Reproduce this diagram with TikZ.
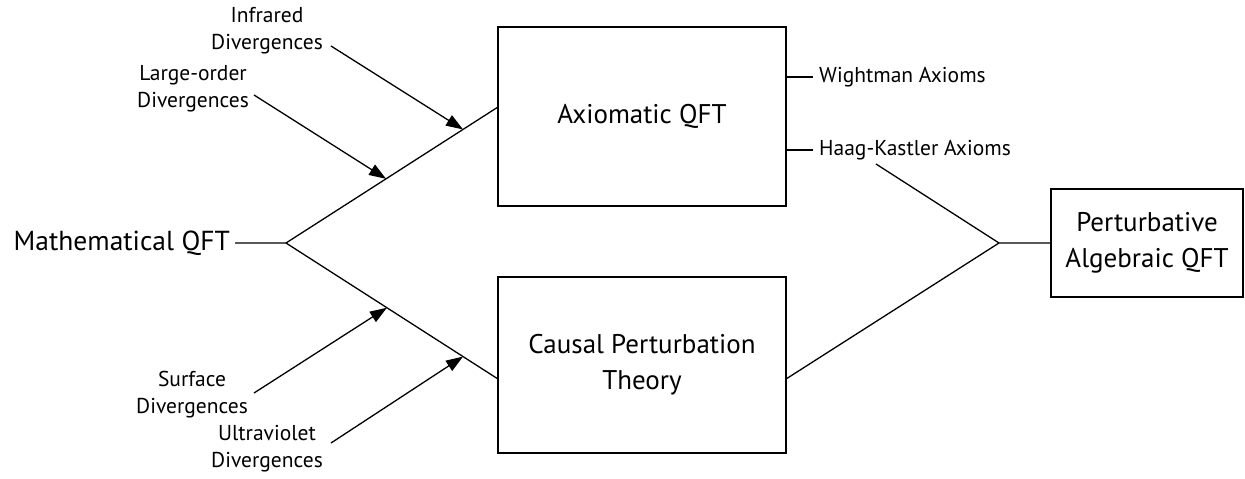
\documentclass[tikz,border=0pt]{standalone}
\usepackage{fontspec}
\setmainfont{PT Sans}
\usetikzlibrary{arrows.meta,calc}
\begin{document}
\begin{tikzpicture}[x=1pt,y=-1pt,
  box/.style={draw,line width=1.4pt,inner sep=0pt,align=center,font=\fontsize{27}{36}\selectfont},
  big/.style={font=\fontsize{27.5}{34}\selectfont,inner sep=5pt},
  small/.style={font=\fontsize{21.5}{27}\selectfont,align=center,inner sep=0pt},
  lbl/.style={font=\fontsize{21.5}{27}\selectfont,inner sep=6pt},
  ln/.style={line width=1.3pt},
  arr/.style={ln,-{Triangle[length=17pt,width=12pt]}}]
\useasboundingbox (0,0) rectangle (1245,479);

% boxes
\node[box,minimum width=288pt,minimum height=179pt] (ax) at (642,116.5) {Axiomatic QFT};
\node[box,minimum width=288pt,minimum height=176pt] (cp) at (642,365) {Causal Perturbation\\Theory};
\node[box,minimum width=192pt,minimum height=108pt] (pa) at (1147,243) {Perturbative\\Algebraic QFT};

% left
\node[big,anchor=east] (mq) at (235,243) {Mathematical QFT};
\coordinate (jl) at (286,243);
\coordinate (axin) at (498,107);
\coordinate (cpin) at (498,379);
\draw[ln] (mq.east) -- (jl) -- (axin);
\draw[ln] (jl) -- (cpin);

% divergence labels
\node[small] (ir) at (267,31) {Infrared\\Divergences};
\node[small] (lo) at (193,89) {Large-order\\Divergences};
\node[small] (sf) at (192,395) {Surface\\Divergences};
\node[small] (uv) at (267,449) {Ultraviolet\\Divergences};

\coordinate (irs) at (331,46);
\coordinate (los) at (254,95);
\coordinate (sfs) at (254,393);
\coordinate (uvs) at (331,443);
\coordinate (irt) at ($(jl)!0.835!(axin)$);
\coordinate (lot) at ($(jl)!0.472!(axin)$);
\coordinate (sft) at ($(jl)!0.476!(cpin)$);
\coordinate (uvt) at ($(jl)!0.835!(cpin)$);
\draw[arr] (irs) -- (irt);
\draw[arr] (los) -- (lot);
\draw[arr] (sfs) -- (sft);
\draw[arr] (uvs) -- (uvt);

% axioms
\node[lbl,anchor=west] (wa) at (813,77) {Wightman Axioms};
\node[lbl,anchor=west] (hk) at (813,150) {Haag-Kastler Axioms};
\draw[ln] (ax.east |- wa.west) -- (wa.west);
\draw[ln] (ax.east |- hk.west) -- (hk.west);

% right
\coordinate (jr) at (999,243);
\coordinate (hkf) at (876,164);
\coordinate (cpout) at (786,379);
\draw[ln] (hkf) -- (jr) -- (pa.west);
\draw[ln] (cpout) -- (jr);
\end{tikzpicture}
\end{document}
